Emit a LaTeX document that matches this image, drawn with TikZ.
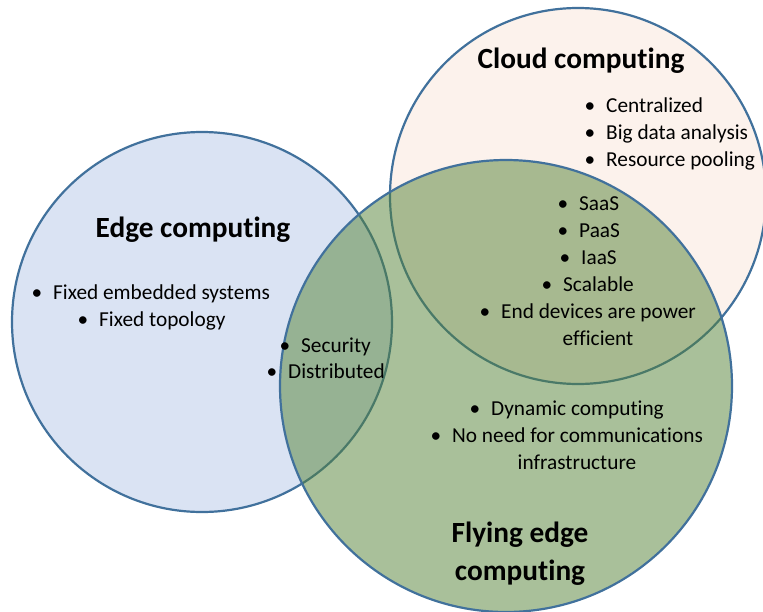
\documentclass[tikz,border=0pt]{standalone}
\usepackage{fontspec}
\setmainfont[Ligatures={NoCommon}, Contextuals={NoAlternate}]{Carlito}
\definecolor{edgefill}{HTML}{DAE3F3}
\definecolor{cloudfill}{HTML}{FCF2EC}
\definecolor{flyfill}{HTML}{548235}
\definecolor{rim}{HTML}{41719C}
\newcommand{\bul}[1]{\llap{•\kern 11pt}#1}
\tikzset{
  ring/.style={draw=rim, line width=2.2pt},
  item/.style={anchor=base west, inner sep=0pt, font=\fontsize{21.3}{27}\selectfont},
  itemc/.style={anchor=base, inner sep=0pt, font=\fontsize{21.3}{27}\selectfont},
  ttl/.style={anchor=base, inner sep=0pt, font=\fontsize{29.3}{38}\selectfont\bfseries}
}
\begin{document}
\begin{tikzpicture}[x=1pt, y=-1pt]
\useasboundingbox (0,0) rectangle (763,611);
% circles
\fill[edgefill] (202,322) circle (190);
\draw[ring] (202,322) circle (190);
\fill[cloudfill] (578,196) circle (188);
\draw[ring] (578,196) circle (188);
\fill[flyfill, fill opacity=0.5] (506,386) circle (226);
\draw[ring] (506,386) circle (226);
% edge computing
\node[ttl] (edgeT) at (193,237) {Edge computing};
\node[item] (e1) at (53,299) {\bul{Fixed embedded systems}};
\node[item] (e2) at (99,326) {\bul{Fixed topology}};
\node[item] (s1) at (301,352) {\bul{Security}};
\node[item] (s2) at (288,378) {\bul{Distributed}};
% cloud computing
\node[ttl] (cloudT) at (581,68) {Cloud computing};
\node[item] (c1) at (606,112) {\bul{Centralized}};
\node[item] (c2) at (606,139) {\bul{Big data analysis}};
\node[item] (c3) at (606,166) {\bul{Resource pooling}};
% cloud & flying
\node[item] (f1) at (579,210) {\bul{SaaS}};
\node[item] (f2) at (579,237) {\bul{PaaS}};
\node[item] (f3) at (581,264) {\bul{IaaS}};
\node[item] (f4) at (563,291) {\bul{Scalable}};
\node[item] (f5) at (501,318) {\bul{End devices are power}};
\node[itemc] (f5b) at (598,345) {efficient};
% flying
\node[item] (g1) at (491,415) {\bul{Dynamic computing}};
\node[item] (g2) at (452,442) {\bul{No need for communications}};
\node[itemc] (g2b) at (577,469) {infrastructure};
\node[ttl] (flyT1) at (520,542) {Flying edge};
\node[ttl] (flyT2) at (520,580) {computing};
\end{tikzpicture}
\end{document}
